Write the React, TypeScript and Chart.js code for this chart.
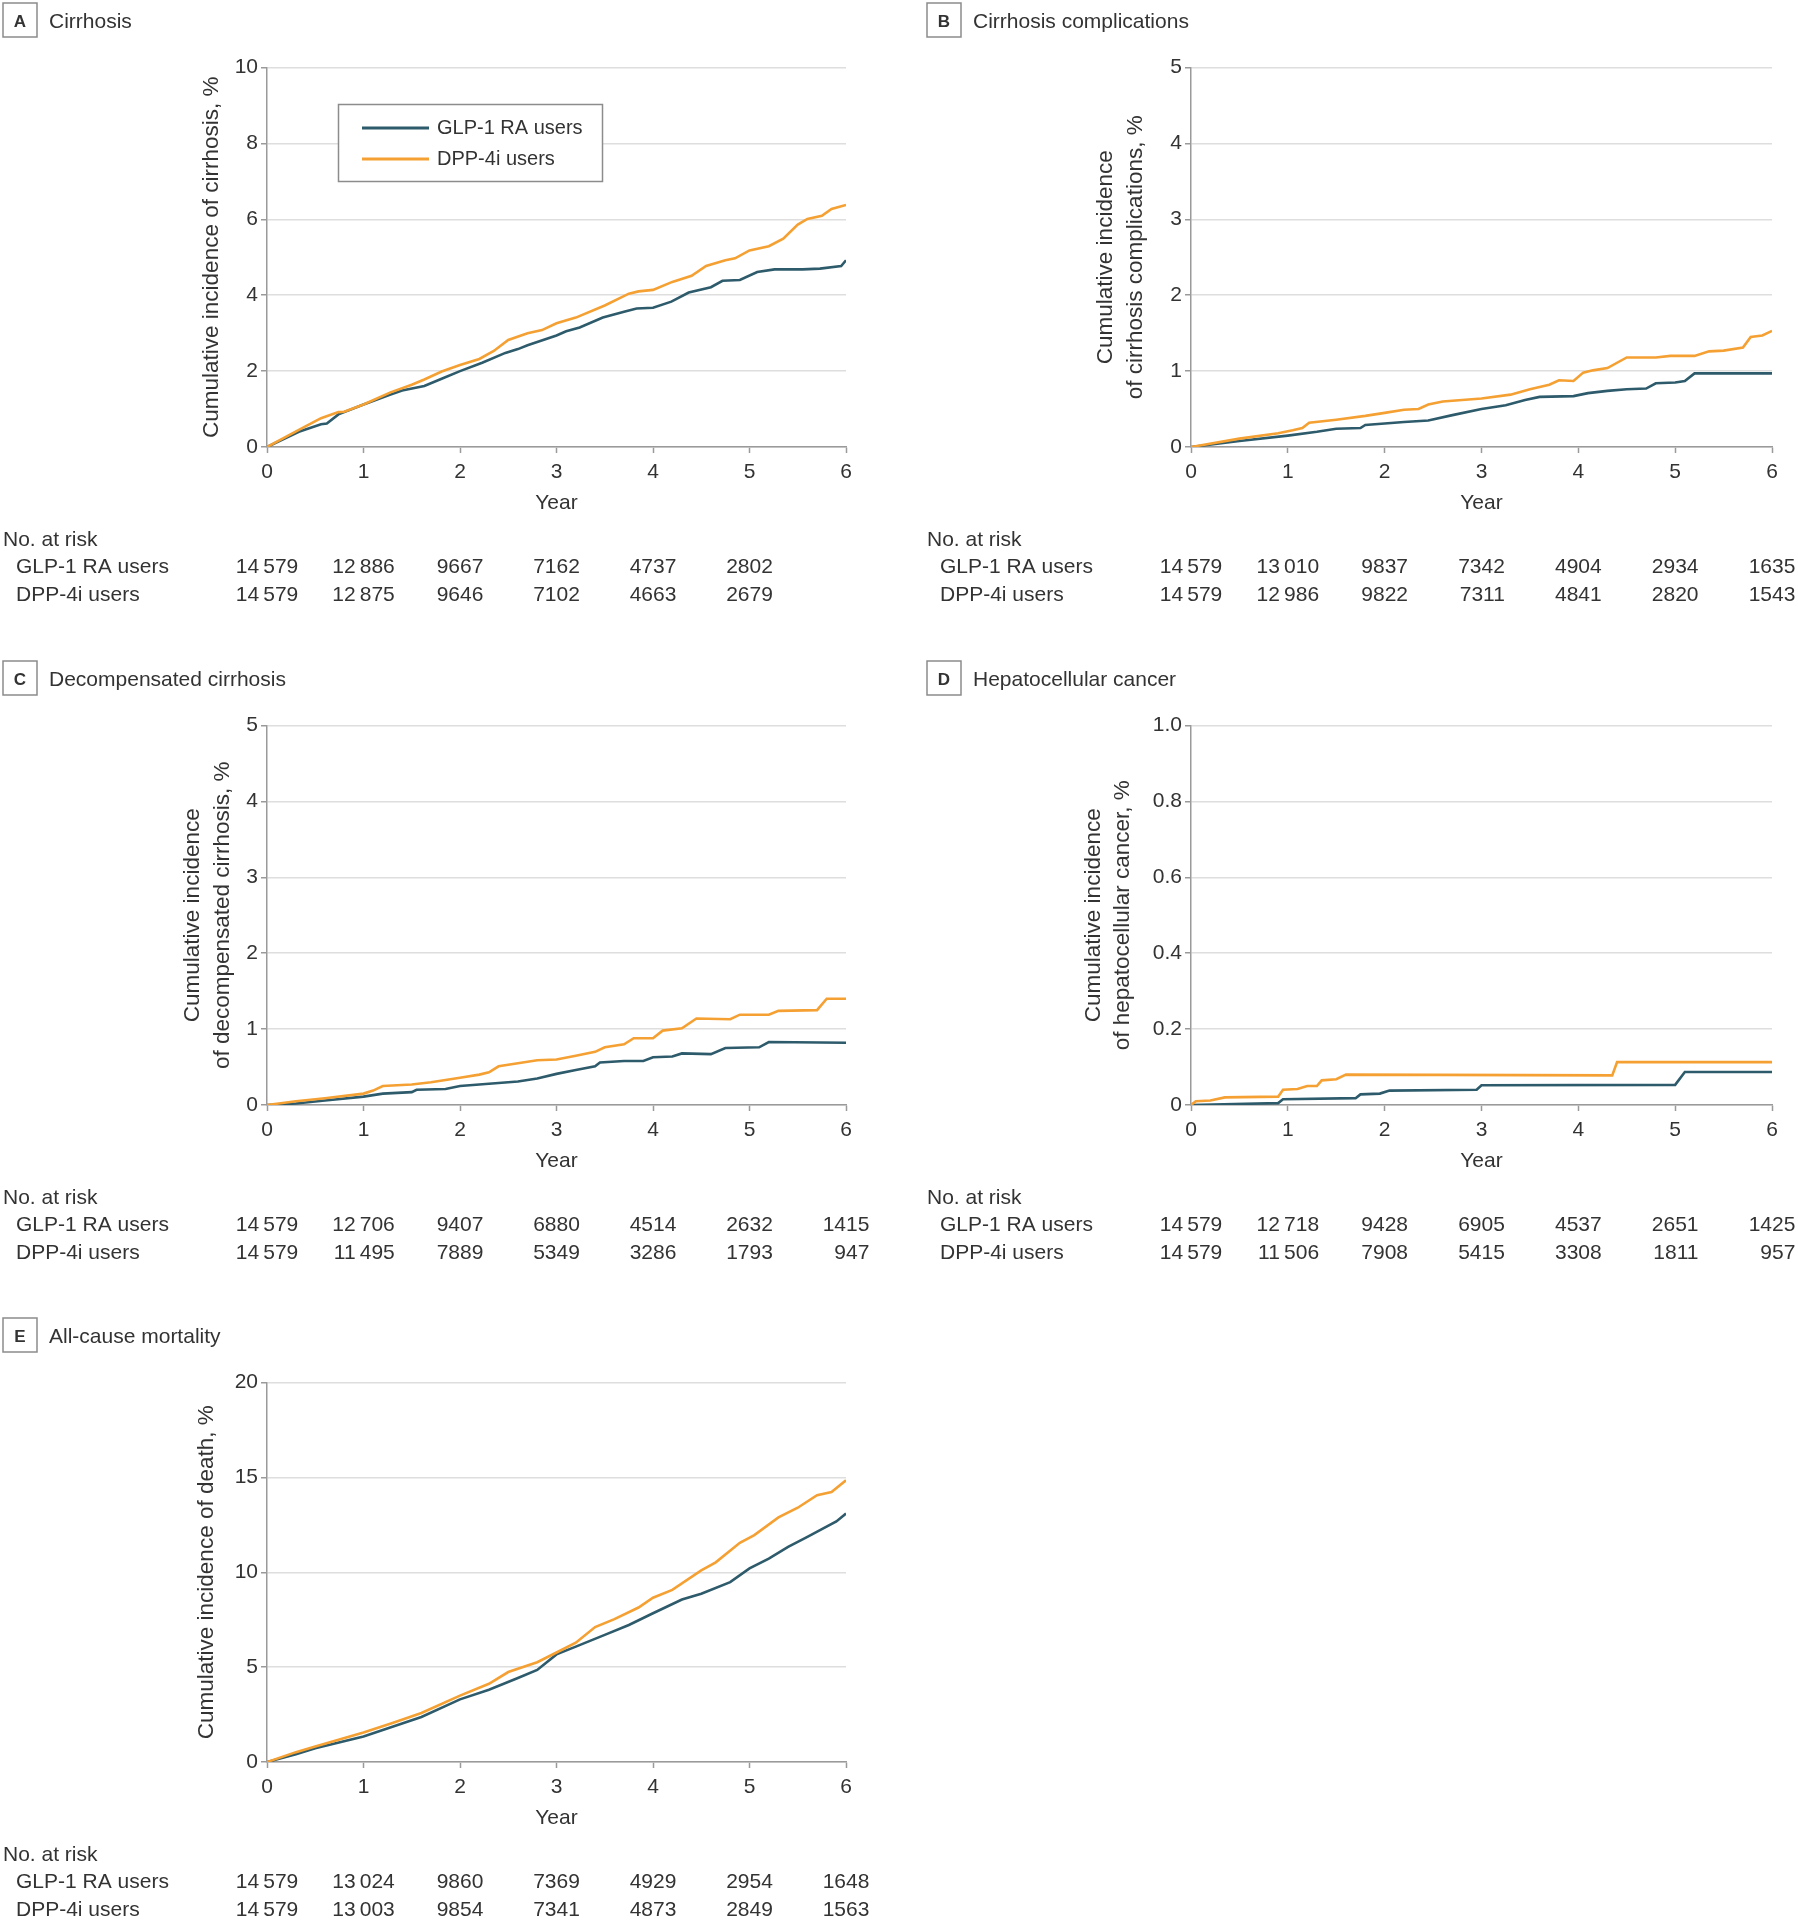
import React, { useEffect, useRef } from "react";
import { Chart, registerables } from "chart.js";

Chart.register(...registerables);

const FONT = '"Liberation Sans", Arial, sans-serif';
const TEXT = "#333333";
const GLP_COLOR = "#2e5b6b";
const DPP_COLOR = "#f5a032";
const GRID = "#dedede";
const AXIS = "#9a9a9a";

const seriesLabels = ["GLP-1 RA users", "DPP-4i users"];
const yearTicks = [0, 1, 2, 3, 4, 5, 6];

// ---------- Panel A: Cirrhosis ----------
const cirrhosisGLP: [number, number][] = [
  [0, 0], [0.33, 0.4], [0.56, 0.6], [0.62, 0.62], [0.74, 0.86], [1.0, 1.12], [1.28, 1.38], [1.4, 1.49],
  [1.63, 1.61], [1.81, 1.8], [2.0, 2.0], [2.23, 2.22], [2.47, 2.48], [2.6, 2.58], [2.7, 2.68], [3.0, 2.94],
  [3.1, 3.05], [3.24, 3.15], [3.48, 3.41], [3.71, 3.57], [3.83, 3.65], [4.0, 3.67], [4.19, 3.83],
  [4.37, 4.07], [4.6, 4.21], [4.72, 4.38], [4.9, 4.4], [5.08, 4.61], [5.26, 4.68], [5.55, 4.68],
  [5.73, 4.7], [5.95, 4.77], [6.0, 4.92],
];
const cirrhosisDPP: [number, number][] = [
  [0, 0], [0.33, 0.45], [0.56, 0.76], [0.74, 0.92], [0.8, 0.93], [1.0, 1.12], [1.28, 1.44], [1.5, 1.64],
  [1.63, 1.78], [1.81, 1.99], [2.0, 2.16], [2.2, 2.32], [2.35, 2.53], [2.5, 2.82], [2.7, 3.0], [2.85, 3.08],
  [3.0, 3.26], [3.2, 3.41], [3.5, 3.73], [3.75, 4.04], [3.85, 4.1], [4.0, 4.14], [4.2, 4.35], [4.4, 4.51],
  [4.55, 4.77], [4.75, 4.92], [4.85, 4.97], [5.0, 5.18], [5.2, 5.29], [5.35, 5.49], [5.5, 5.86],
  [5.6, 6.01], [5.75, 6.09], [5.85, 6.27], [6.0, 6.38],
];
const riskA_GLP = [14579, 12886, 9667, 7162, 4737, 2802];
const riskA_DPP = [14579, 12875, 9646, 7102, 4663, 2679];

// ---------- Panel B: Cirrhosis complications ----------
const complicationsGLP: [number, number][] = [
  [0, 0], [0.5, 0.08], [1.0, 0.15], [1.3, 0.2], [1.5, 0.24], [1.75, 0.25], [1.8, 0.29], [2.0, 0.31],
  [2.2, 0.33], [2.45, 0.35], [2.7, 0.42], [3.0, 0.5], [3.25, 0.55], [3.45, 0.62], [3.6, 0.66],
  [3.95, 0.67], [4.1, 0.71], [4.3, 0.74], [4.5, 0.76], [4.7, 0.77], [4.8, 0.84], [5.0, 0.85],
  [5.1, 0.87], [5.2, 0.97], [6.0, 0.97],
];
const complicationsDPP: [number, number][] = [
  [0, 0], [0.5, 0.11], [0.9, 0.18], [1.05, 0.22], [1.15, 0.25], [1.22, 0.32], [1.5, 0.36], [1.8, 0.41],
  [2.0, 0.45], [2.2, 0.49], [2.35, 0.5], [2.45, 0.56], [2.6, 0.6], [2.8, 0.62], [3.0, 0.64], [3.3, 0.69],
  [3.5, 0.76], [3.7, 0.82], [3.8, 0.88], [3.95, 0.87], [4.05, 0.98], [4.15, 1.01], [4.3, 1.04],
  [4.5, 1.18], [4.8, 1.18], [4.95, 1.2], [5.2, 1.2], [5.35, 1.26], [5.5, 1.27], [5.7, 1.31],
  [5.78, 1.45], [5.9, 1.47], [6.0, 1.53],
];
const riskB_GLP = [14579, 13010, 9837, 7342, 4904, 2934, 1635];
const riskB_DPP = [14579, 12986, 9822, 7311, 4841, 2820, 1543];

// ---------- Panel C: Decompensated cirrhosis ----------
const decompGLP: [number, number][] = [
  [0, 0], [0.3, 0.02], [0.6, 0.06], [1.0, 0.11], [1.2, 0.15], [1.5, 0.17], [1.55, 0.2], [1.85, 0.21],
  [2.0, 0.25], [2.3, 0.28], [2.6, 0.31], [2.8, 0.35], [3.0, 0.41], [3.2, 0.46], [3.4, 0.51],
  [3.45, 0.56], [3.7, 0.58], [3.9, 0.58], [4.0, 0.63], [4.2, 0.64], [4.3, 0.68], [4.6, 0.67],
  [4.75, 0.75], [5.1, 0.76], [5.2, 0.83], [6.0, 0.82],
];
const decompDPP: [number, number][] = [
  [0, 0], [0.3, 0.05], [0.6, 0.09], [1.0, 0.15], [1.1, 0.19], [1.2, 0.25], [1.5, 0.27], [1.7, 0.3],
  [1.9, 0.34], [2.0, 0.36], [2.2, 0.4], [2.3, 0.43], [2.4, 0.51], [2.6, 0.55], [2.8, 0.59], [3.0, 0.6],
  [3.2, 0.65], [3.4, 0.7], [3.5, 0.76], [3.7, 0.8], [3.8, 0.88], [4.0, 0.88], [4.1, 0.98], [4.3, 1.01],
  [4.45, 1.14], [4.8, 1.13], [4.9, 1.19], [5.2, 1.19], [5.3, 1.24], [5.7, 1.25], [5.8, 1.4], [6.0, 1.4],
];
const riskC_GLP = [14579, 12706, 9407, 6880, 4514, 2632, 1415];
const riskC_DPP = [14579, 11495, 7889, 5349, 3286, 1793, 947];

// ---------- Panel D: Hepatocellular cancer ----------
const hccGLP: [number, number][] = [
  [0, 0], [0.9, 0.005], [0.95, 0.015], [1.7, 0.018], [1.75, 0.028], [1.95, 0.03], [2.05, 0.038],
  [2.95, 0.04], [3.0, 0.052], [5.0, 0.053], [5.1, 0.087], [6.0, 0.087],
];
const hccDPP: [number, number][] = [
  [0, 0], [0.05, 0.01], [0.2, 0.012], [0.35, 0.02], [0.9, 0.022], [0.95, 0.04], [1.1, 0.042],
  [1.2, 0.05], [1.3, 0.05], [1.35, 0.065], [1.5, 0.068], [1.6, 0.08], [4.35, 0.078], [4.4, 0.113],
  [6.0, 0.113],
];
const hccTickLabels = ["0", "0.2", "0.4", "0.6", "0.8", "1.0"];
const riskD_GLP = [14579, 12718, 9428, 6905, 4537, 2651, 1425];
const riskD_DPP = [14579, 11506, 7908, 5415, 3308, 1811, 957];

// ---------- Panel E: All-cause mortality ----------
const deathGLP: [number, number][] = [
  [0, 0], [0.3, 0.41], [0.5, 0.72], [1.0, 1.34], [1.3, 1.86], [1.6, 2.37], [2.0, 3.3], [2.3, 3.81],
  [2.6, 4.43], [2.8, 4.85], [3.0, 5.67], [3.2, 6.08], [3.5, 6.7], [3.75, 7.22], [4.0, 7.84],
  [4.3, 8.56], [4.5, 8.87], [4.8, 9.48], [5.0, 10.2], [5.2, 10.72], [5.4, 11.34], [5.6, 11.86],
  [5.75, 12.27], [5.9, 12.68], [6.0, 13.09],
];
const deathDPP: [number, number][] = [
  [0, 0], [0.3, 0.52], [0.5, 0.82], [1.0, 1.55], [1.3, 2.06], [1.6, 2.58], [2.0, 3.5], [2.3, 4.12],
  [2.5, 4.74], [2.8, 5.26], [3.0, 5.77], [3.2, 6.29], [3.4, 7.11], [3.6, 7.53], [3.85, 8.14],
  [4.0, 8.66], [4.2, 9.07], [4.5, 10.1], [4.65, 10.52], [4.9, 11.55], [5.05, 11.96], [5.3, 12.89],
  [5.5, 13.4], [5.7, 14.06], [5.85, 14.23], [6.0, 14.85],
];
const riskE_GLP = [14579, 13024, 9860, 7369, 4929, 2954, 1648];
const riskE_DPP = [14579, 13003, 9854, 7341, 4873, 2849, 1563];

// ---------- Layout ----------
const PLOT_LEFT = 267;
const PLOT_TOP = 67.5;
const PLOT_BOTTOM = 447;
const XSCALE_H = 68.6;

type PanelSpec = {
  letter: string;
  title: string;
  yTitle: string | string[];
  yTitlePad: number;
  yMax: number;
  yStep: number;
  yLabels?: string[];
  glp: [number, number][];
  dpp: [number, number][];
  riskGLP: number[];
  riskDPP: number[];
  legend: boolean;
  x: number;
  y: number;
  w: number;
  h: number;
  plotRight: number;
};

const panels: PanelSpec[] = [
  {
    letter: "A", title: "Cirrhosis", yTitle: "Cumulative incidence of cirrhosis, %", yTitlePad: 197.5,
    yMax: 10, yStep: 2, glp: cirrhosisGLP, dpp: cirrhosisDPP, riskGLP: riskA_GLP, riskDPP: riskA_DPP,
    legend: true, x: 0, y: 0, w: 924, h: 658, plotRight: 846,
  },
  {
    letter: "B", title: "Cirrhosis complications",
    yTitle: ["Cumulative incidence", "of cirrhosis complications, %"], yTitlePad: 167.5,
    yMax: 5, yStep: 1, glp: complicationsGLP, dpp: complicationsDPP, riskGLP: riskB_GLP, riskDPP: riskB_DPP,
    legend: false, x: 924, y: 0, w: 874, h: 658, plotRight: 848,
  },
  {
    letter: "C", title: "Decompensated cirrhosis",
    yTitle: ["Cumulative incidence", "of decompensated cirrhosis, %"], yTitlePad: 178.5,
    yMax: 5, yStep: 1, glp: decompGLP, dpp: decompDPP, riskGLP: riskC_GLP, riskDPP: riskC_DPP,
    legend: false, x: 0, y: 658, w: 924, h: 657, plotRight: 846,
  },
  {
    letter: "D", title: "Hepatocellular cancer",
    yTitle: ["Cumulative incidence", "of hepatocellular cancer, %"], yTitlePad: 155,
    yMax: 1, yStep: 0.2, yLabels: hccTickLabels, glp: hccGLP, dpp: hccDPP, riskGLP: riskD_GLP, riskDPP: riskD_DPP,
    legend: false, x: 924, y: 658, w: 874, h: 657, plotRight: 848,
  },
  {
    letter: "E", title: "All-cause mortality", yTitle: "Cumulative incidence of death, %", yTitlePad: 192.5,
    yMax: 20, yStep: 5, glp: deathGLP, dpp: deathDPP, riskGLP: riskE_GLP, riskDPP: riskE_DPP,
    legend: false, x: 0, y: 1315, w: 924, h: 605, plotRight: 846,
  },
];

function fmt(n: number): string {
  if (n >= 10000) {
    return `${Math.floor(n / 1000)}\u2009${String(n % 1000).padStart(3, "0")}`;
  }
  return String(n);
}

const decorPlugin = {
  id: "panelDecor",
  afterDraw(chart: any) {
    const o = chart.options.plugins.panelDecor;
    if (!o) return;
    const ctx: CanvasRenderingContext2D = chart.ctx;
    const xs = chart.scales.x;
    const area = chart.chartArea;
    ctx.save();

    // panel letter box
    ctx.strokeStyle = "#8c8c8c";
    ctx.lineWidth = 1.5;
    ctx.beginPath();
    ctx.rect(3, 3, 34, 34);
    ctx.stroke();
    ctx.fillStyle = TEXT;
    ctx.font = `bold 17px ${FONT}`;
    ctx.textAlign = "center";
    ctx.textBaseline = "alphabetic";
    ctx.fillText(o.letter, 20, 27);
    ctx.font = `21px ${FONT}`;
    ctx.textAlign = "left";
    ctx.fillText(o.title, 49, 28);

    // legend
    if (o.legend) {
      const lx = 338.5, ly = 104.5, lw = 264, lh = 77;
      ctx.fillStyle = "#ffffff";
      ctx.fillRect(lx, ly, lw, lh);
      ctx.strokeStyle = "#8c8c8c";
      ctx.lineWidth = 1.5;
      ctx.strokeRect(lx, ly, lw, lh);
      const rows = [128, 159];
      chart.data.datasets.forEach((ds: any, i: number) => {
        ctx.strokeStyle = ds.borderColor;
        ctx.lineWidth = 3;
        ctx.beginPath();
        ctx.moveTo(362, rows[i]);
        ctx.lineTo(429, rows[i]);
        ctx.stroke();
        ctx.fillStyle = TEXT;
        ctx.font = `20px ${FONT}`;
        ctx.textAlign = "left";
        ctx.textBaseline = "middle";
        ctx.fillText(ds.label, 437, rows[i]);
      });
    }

    // number at risk table
    const base = area.bottom;
    ctx.fillStyle = TEXT;
    ctx.textBaseline = "middle";
    ctx.textAlign = "left";
    ctx.font = `21px ${FONT}`;
    ctx.fillText("No. at risk", 3, base + 93);
    ctx.fillText(seriesLabels[0], 16, base + 120);
    ctx.fillText(seriesLabels[1], 16, base + 148);
    const rowsData: number[][] = [o.riskGLP, o.riskDPP];
    const n = Math.max(o.riskGLP.length, o.riskDPP.length);
    for (let i = 0; i < n; i++) {
      const cx = xs.getPixelForValue(yearTicks[i]);
      const texts = rowsData.map((r) => (r[i] !== undefined ? fmt(r[i]) : ""));
      const maxW = Math.max(...texts.map((t) => ctx.measureText(t).width));
      ctx.textAlign = "right";
      texts.forEach((t, j) => {
        ctx.fillText(t, cx + maxW / 2, base + (j === 0 ? 120 : 148));
      });
    }
    ctx.restore();
  },
};

function PanelChart({ p }: { p: PanelSpec }) {
  const ref = useRef<HTMLCanvasElement>(null);
  useEffect(() => {
    const canvas = ref.current;
    if (!canvas) return;
    const chart = new Chart(canvas, {
      type: "line",
      data: {
        datasets: [
          {
            label: seriesLabels[0],
            data: p.glp.map(([x, y]) => ({ x, y })),
            borderColor: GLP_COLOR,
            borderWidth: 2.6,
            pointRadius: 0,
            tension: 0,
            order: 1,
          },
          {
            label: seriesLabels[1],
            data: p.dpp.map(([x, y]) => ({ x, y })),
            borderColor: DPP_COLOR,
            borderWidth: 2.6,
            pointRadius: 0,
            tension: 0,
            order: 0,
          },
        ],
      },
      options: {
        animation: false,
        responsive: false,
        devicePixelRatio: 1,
        events: [],
        layout: {
          padding: {
            left: 0,
            top: PLOT_TOP,
            right: p.w - p.plotRight,
            bottom: p.h - PLOT_BOTTOM - XSCALE_H,
          },
        },
        scales: {
          x: {
            type: "linear",
            min: 0,
            max: 6,
            afterFit: (s: any) => {
              s.height = XSCALE_H;
            },
            afterBuildTicks: (s: any) => {
              s.ticks = yearTicks.map((v) => ({ value: v }));
            },
            ticks: {
              stepSize: 1,
              color: TEXT,
              font: { family: FONT, size: 21 },
              padding: 7,
              maxRotation: 0,
            },
            grid: { drawOnChartArea: false, drawTicks: true, tickLength: 6, tickColor: AXIS, tickWidth: 1.5 },
            border: { color: AXIS, width: 1.5 },
            title: {
              display: true,
              text: "Year",
              color: TEXT,
              font: { family: FONT, size: 21 },
              padding: { top: 0, bottom: 0 },
            },
          },
          y: {
            type: "linear",
            min: 0,
            max: p.yMax,
            afterFit: (s: any) => {
              s.width = PLOT_LEFT;
            },
            ticks: {
              stepSize: p.yStep,
              color: TEXT,
              font: { family: FONT, size: 21 },
              padding: 3,
              callback: (v: any, i: number) => (p.yLabels ? p.yLabels[i] : String(v)),
            },
            grid: { color: GRID, lineWidth: 1.5, tickLength: 6, tickColor: AXIS, tickWidth: 1.5 },
            border: { color: AXIS, width: 1.5 },
            title: {
              display: true,
              text: p.yTitle,
              color: TEXT,
              font: { family: FONT, size: 22.5, lineHeight: 1.31 },
              padding: { top: p.yTitlePad, bottom: 0 },
            },
          },
        },
        plugins: {
          legend: { display: false },
          tooltip: { enabled: false },
          panelDecor: {
            letter: p.letter,
            title: p.title,
            legend: p.legend,
            riskGLP: p.riskGLP,
            riskDPP: p.riskDPP,
          },
        } as any,
      },
      plugins: [decorPlugin],
    } as any);
    return () => chart.destroy();
  }, [p]);
  return (
    <canvas
      ref={ref}
      width={p.w}
      height={p.h}
      style={{ position: "absolute", left: p.x, top: p.y, width: p.w, height: p.h }}
    />
  );
}

export default function App() {
  return (
    <div
      style={{
        position: "absolute",
        left: 0,
        top: 0,
        width: 1798,
        height: 1920,
        background: "#ffffff",
        overflow: "hidden",
      }}
    >
      {panels.map((p) => (
        <PanelChart key={p.letter} p={p} />
      ))}
    </div>
  );
}
